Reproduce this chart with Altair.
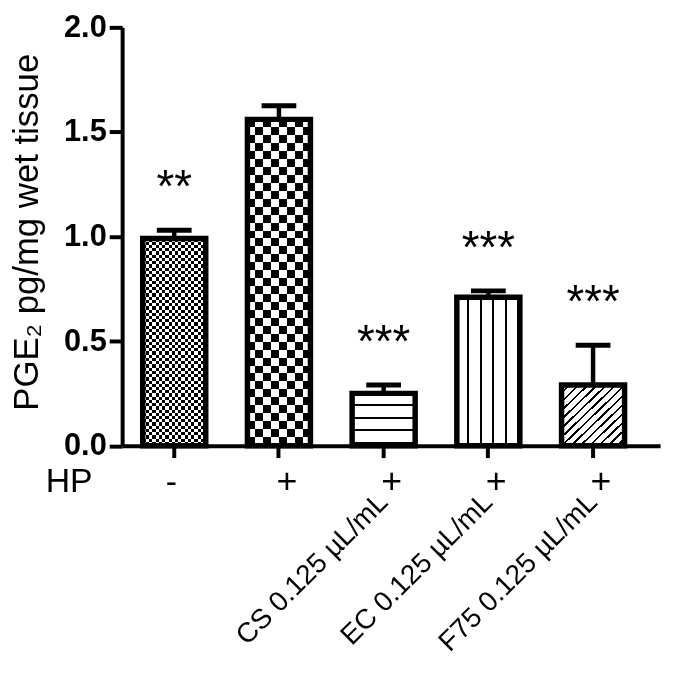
import altair as alt
import pandas as pd

# data
groups = ["HP-", "HP+", "CS", "EC", "F75"]
hp_signs = ["-", "+", "+", "+", "+"]
treatments = ["", "", "CS 0.125 µL/mL", "EC 0.125 µL/mL", "F75 0.125 µL/mL"]
means = [0.99, 1.56, 0.25, 0.71, 0.29]
err_tops = [1.03, 1.625, 0.29, 0.74, 0.48]
stars = ["**", "", "***", "***", "***"]

df = pd.DataFrame(
    {
        "group": groups,
        "hp": hp_signs,
        "treatment": treatments,
        "mean": means,
        "err_top": err_tops,
        "star": stars,
    }
)

W, H = 542, 421.5
Y_MAX = 2.0
P_IN, P_OUT, ALIGN = 0.398, 0.2676, 0.367
step = W / (len(groups) - P_IN + 2 * P_OUT)
bw = step * (1 - P_IN)
FONT = "Liberation Sans"

x_enc = alt.X(
    "group:N",
    sort=groups,
    scale=alt.Scale(domain=groups, paddingInner=P_IN, paddingOuter=P_OUT, align=ALIGN),
    axis=alt.Axis(
        title="",
        labels=False,
        ticks=True,
        tickSize=12,
        tickWidth=4,
        tickColor="black",
        domainWidth=4,
        domainColor="black",
        grid=False,
    ),
)
y_enc = alt.Y(
    "mean:Q",
    scale=alt.Scale(domain=[0, Y_MAX], nice=False),
    axis=alt.Axis(
        values=[0, 0.5, 1, 1.5, 2],
        format=".1f",
        labelFont=FONT,
        labelFontSize=31,
        labelFontWeight="bold",
        labelColor="black",
        labelPadding=3,
        tickSize=13,
        tickWidth=4,
        tickColor="black",
        domainWidth=4,
        domainColor="black",
        grid=False,
        title="PGE₂ pg/mg wet tissue",
        titleFont=FONT,
        titleFontSize=35,
        titleFontWeight="normal",
        titleColor="black",
        titleAngle=270,
        titleAlign="center",
        titleBaseline="middle",
        titleX=-96,
        titleY=206,
    ),
)


def stripes(periods, dark_frac, x2, y2):
    stops = []
    k = 0
    while k < periods:
        a = k / periods
        b = min((k + 1 - dark_frac) / periods, 1)
        c = min((k + 1) / periods, 1)
        stops += [alt.GradientStop(offset=a, color="white"), alt.GradientStop(offset=b, color="white")]
        if b < 1:
            stops += [alt.GradientStop(offset=b, color="black"), alt.GradientStop(offset=c, color="black")]
        k += 1
    return alt.LinearGradient(gradient="linear", stops=stops, x1=0, y1=0, x2=x2, y2=y2)


def bar_part(g, fill, **kw):
    return (
        alt.Chart(df)
        .transform_filter(alt.datum.group == g)
        .mark_bar(fill=fill, **kw)
        .encode(x=x_enc, y=y_enc)
    )


layers = []
# fill patterns
for i, g in enumerate(groups):
    h = means[i] / Y_MAX * H
    if g in ("HP-", "HP+"):
        cell = 3.25 if g == "HP-" else 8.0
        layers.append(bar_part(g, stripes(h / (2 * cell), 0.5, 0, 1)))
        layers.append(bar_part(g, stripes(bw / (2 * cell), 0.5, 1, 0), blend="difference"))
    elif g == "CS":
        layers.append(bar_part(g, stripes(h / 12.8, 0.16, 0, 1)))
    elif g == "EC":
        layers.append(bar_part(g, stripes(bw / 12.6, 0.16, 1, 0)))
    else:
        layers.append(bar_part(g, stripes(2 * bw / 9.3, 0.27, 1, 1)))

outline = (
    alt.Chart(df)
    .mark_bar(fillOpacity=0, stroke="black", strokeWidth=5.5)
    .encode(x=x_enc, y=y_enc)
)
err_line = (
    alt.Chart(df)
    .mark_rule(color="black", strokeWidth=4.5)
    .encode(x=x_enc, y=y_enc, y2="err_top:Q")
)
err_cap = (
    alt.Chart(df)
    .mark_tick(color="black", size=35, thickness=5, opacity=1)
    .encode(x=x_enc, y="err_top:Q")
)
star_text = (
    alt.Chart(df)
    .mark_text(font=FONT, fontSize=46, baseline="alphabetic", dy=-28, color="black")
    .encode(x=x_enc, y="err_top:Q", text="star:N")
)
plus_text = (
    alt.Chart(df)
    .transform_filter(alt.datum.hp == "+")
    .mark_text(font=FONT, fontSize=36, baseline="middle", dx=8, color="black")
    .encode(x=x_enc, y=alt.value(H + 37), text="hp:N")
)
minus_text = (
    alt.Chart(df)
    .transform_filter(alt.datum.hp == "-")
    .mark_text(font=FONT, fontSize=34, baseline="middle", dx=-3, color="black")
    .encode(x=x_enc, y=alt.value(H + 38), text="hp:N")
)
treat_text = (
    alt.Chart(df)
    .mark_text(font=FONT, fontSize=28, angle=315, align="right", baseline="middle", color="black")
    .encode(x=x_enc, y=alt.value(H + 53), text="treatment:N")
)
hp_label = (
    alt.Chart(df)
    .transform_filter(alt.datum.group == "HP-")
    .mark_text(font=FONT, fontSize=34, align="left", baseline="middle", color="black", text="HP")
    .encode(x=alt.value(-77), y=alt.value(H + 37))
)

chart = (
    alt.layer(*layers, outline, err_line, err_cap, star_text, plus_text, minus_text, treat_text, hp_label)
    .properties(
        width=W,
        height=H,
        autosize=alt.AutoSizeParams(type="none"),
        padding={"left": 115, "top": 17, "right": 8, "bottom": 218},
        background="white",
    )
    .configure_view(stroke=None)
)

chart.save("out.html", embed_options={"renderer": "svg", "actions": False})
